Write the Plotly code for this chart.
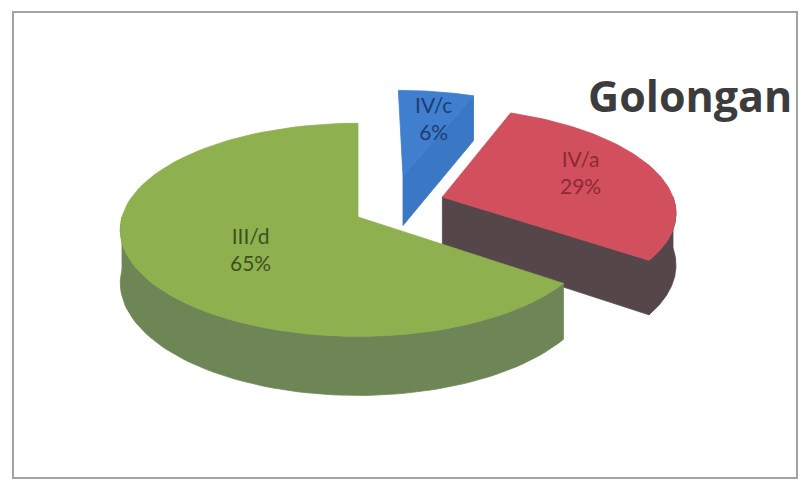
import numpy as np
import plotly.graph_objects as go

# Data
categories = ["IV/c", "IV/a", "III/d"]
percent = [6, 29, 65]
title_text = "Golongan"

# Appearance of each slice: top colour, side colour, label colour,
# pull (ground-plane X, Y) and a small nudge of the label in page pixels
slice_style = {
    "IV/c": dict(top="#3f7fcd", side="#3a77c4", label="#1e3c72",
                 pull=(0.20, 0.41), nudge=(10, -7)),
    "IV/a": dict(top="#d24f5d", side="#554749", label="#8a2a36",
                 pull=(0.366, 0.195), nudge=(14, -9)),
    "III/d": dict(top="#8fb04f", side="#6e8656", label="#3b5220",
                  pull=(0.0, 0.0), nudge=(18, 3)),
}

# Projection of the pie disc (radius 1, ground plane) onto the page
CX, CY = 358.0, 217.0      # page position of the pie centre
A, B = 236.0, 105.0        # horizontal / vertical semi-axes of the top face
K = 0.12                   # perspective strength (far side smaller)
DEPTH = 52.0               # thickness of the disc
LABEL_R = 0.58             # label distance from a slice's apex


def project(X, Y, z):
    """Ground-plane point (X right, Y back) at level z (0 = top, -1 = bottom)."""
    X = np.asarray(X, dtype=float)
    Y = np.asarray(Y, dtype=float)
    s = 1.0 / (1.0 + K * Y)
    return CX + A * X * s, CY + s * (-B * Y - DEPTH * z)


def arc(t0, t1, ox, oy, n=80):
    t = np.radians(np.linspace(t0, t1, max(2, n)))
    return ox + np.sin(t), oy + np.cos(t)


fig = go.Figure()


def add_poly(xs, ys, color):
    xs = list(xs) + [xs[0]]
    ys = list(ys) + [ys[0]]
    fig.add_trace(go.Scatter(
        x=xs, y=ys, mode="lines", fill="toself", fillcolor=color,
        line=dict(color=color, width=0.8), hoverinfo="skip", showlegend=False,
    ))


# Slice angles, clockwise from 12 o'clock
total = float(sum(percent))
bounds = np.concatenate([[0.0], np.cumsum(percent) / total * 360.0])
slices = []
for i, cat in enumerate(categories):
    slices.append(dict(cat=cat, pct=percent[i], t0=bounds[i], t1=bounds[i + 1],
                       **slice_style[cat]))

# Paint the farthest slices first
for sl in sorted(slices, key=lambda d: -d["pull"][1]):
    ox, oy = sl["pull"]
    t0, t1 = sl["t0"], sl["t1"]

    # curved outer wall (front half only)
    a0, a1 = max(t0, 90.0), min(t1, 270.0)
    if a1 > a0:
        ax, ay = arc(a0, a1, ox, oy)
        tx, ty = project(ax, ay, 0)
        bx, by = project(ax, ay, -1)
        add_poly(np.concatenate([tx, bx[::-1]]), np.concatenate([ty, by[::-1]]), sl["side"])

    # radial walls that face the viewer
    for t, visible in ((t1, np.sin(np.radians(t1)) > 1e-6),
                       (t0, np.sin(np.radians(t0)) < -1e-6)):
        if visible:
            ex, ey = ox + np.sin(np.radians(t)), oy + np.cos(np.radians(t))
            px, py = project([ox, ex, ex, ox], [oy, ey, ey, oy], np.array([0, 0, -1, -1]))
            add_poly(px, py, sl["side"])

    # top face
    ax, ay = arc(t0, t1, ox, oy)
    fx, fy = project(np.concatenate([[ox], ax]), np.concatenate([[oy], ay]), 0)
    add_poly(fx, fy, sl["top"])

    # data label on the top face
    mid = np.radians((t0 + t1) / 2.0)
    lx, ly = project(ox + LABEL_R * np.sin(mid), oy + LABEL_R * np.cos(mid), 0)
    dx, dy = sl["nudge"]
    fig.add_annotation(
        x=float(lx) + dx, y=float(ly) + dy, text=f"{sl['cat']}<br>{sl['pct']}%",
        showarrow=False, xanchor="center", yanchor="middle",
        font=dict(family="Lato, Open Sans, sans-serif", size=21, color=sl["label"]),
    )

# Chart title
fig.add_annotation(
    x=586, y=95, text=f"<b>{title_text}</b>", showarrow=False,
    xanchor="left", yanchor="middle",
    font=dict(family="Open Sans, Lato, sans-serif", size=43, color="#3c3c3c"),
)

# Chart frame
fig.add_shape(type="rect", x0=13, y0=12, x1=797, y1=478,
              line=dict(color="#a3a3a3", width=2), layer="below")

fig.update_layout(
    width=799, height=479,
    margin=dict(l=0, r=0, t=0, b=0),
    paper_bgcolor="white", plot_bgcolor="white",
    xaxis=dict(range=[0, 799], visible=False, fixedrange=True),
    yaxis=dict(range=[479, 0], visible=False, fixedrange=True),
    showlegend=False,
)

fig.write_html("out.html")
